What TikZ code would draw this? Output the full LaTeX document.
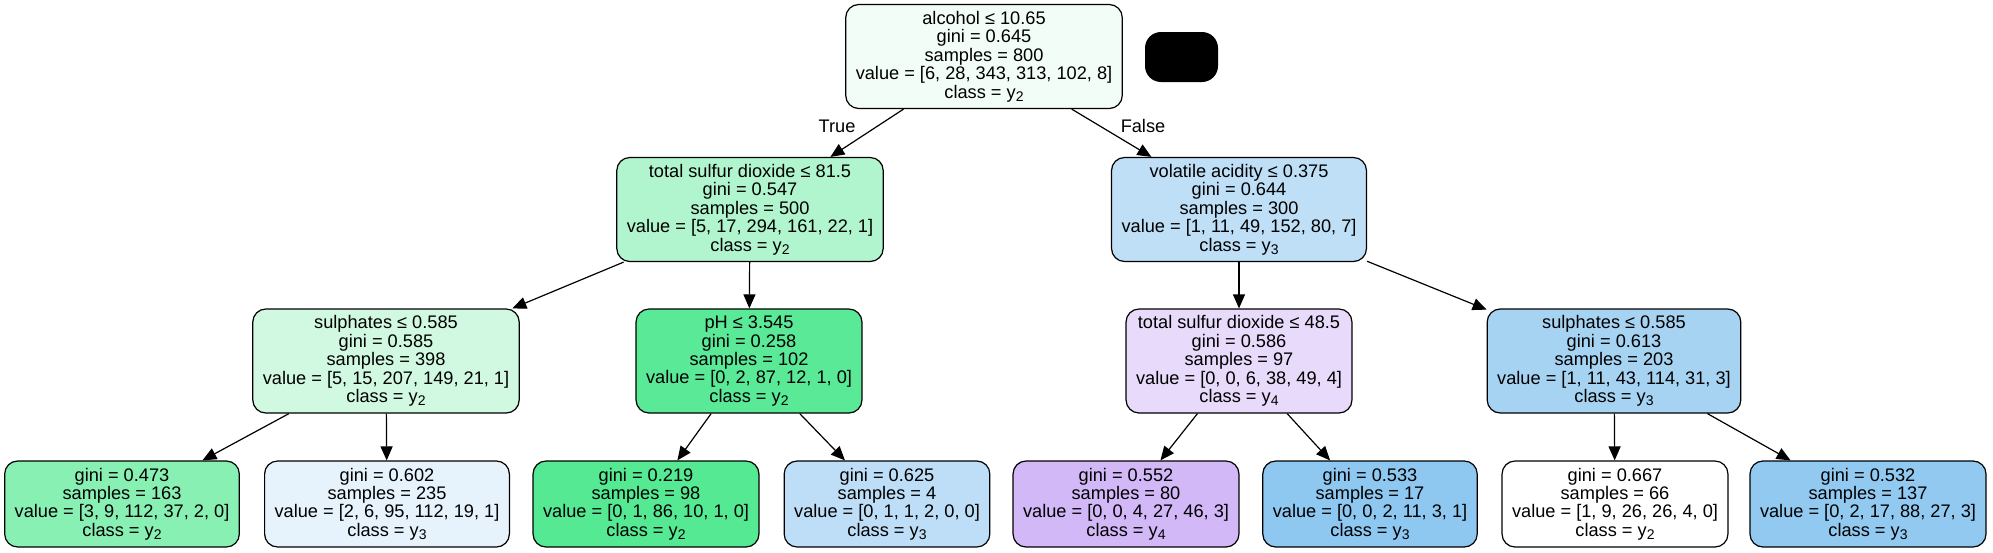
\documentclass[tikz,border=0pt]{standalone}
\usepackage{fontspec}
\setmainfont{Liberation Sans}
\usetikzlibrary{arrows.meta}
\definecolor{ytwo}{HTML}{39E581}
\definecolor{ythree}{HTML}{399DE5}
\definecolor{yfour}{HTML}{8139E5}
\newcommand{\ysub}[1]{y\raisebox{-0.35ex}{\fontsize{7}{7}\selectfont #1}}

\begin{document}
\begin{tikzpicture}[x=0.5pt,y=-0.5pt]
			\tikzset{split/.style = {shape=rectangle,draw,rounded corners=6.5pt,
					line width=0.6pt,align=center,inner xsep=5pt,inner ysep=0pt,
					minimum height=52pt,font=\fontsize{9.1}{9.2}\selectfont}}
			\tikzset{leaf/.style = {split,minimum height=43pt}}
			\tikzset{branch/.style = {-{Triangle[length=7pt,width=6pt]}, line width=0.6pt}}
			\tikzset{blob/.style = {shape=rectangle,fill=black,rounded corners=8pt,
					minimum width=36.5pt,minimum height=25pt,inner sep=0pt}}
			\useasboundingbox (0,0) rectangle (1993,552);
			
			% splits
			\node[split, fill=ytwo!6.2] (a) at (984,56.5) {alcohol ≤ 10.65\\gini = 0.645\\samples = 800\\value = [6, 28, 343, 313, 102, 8]\\class = \ysub{2}};
			\node[blob] (z) at (1181.5,57) {};
			\node[split, fill=ytwo!39.2] (b) at (750,209.5) {total sulfur dioxide ≤ 81.5\\gini = 0.547\\samples = 500\\value = [5, 17, 294, 161, 22, 1]\\class = \ysub{2}};
			\node[split, fill=ythree!32.7] (c) at (1239,209.5) {volatile acidity ≤ 0.375\\gini = 0.644\\samples = 300\\value = [1, 11, 49, 152, 80, 7]\\class = \ysub{3}};
			\node[split, fill=ytwo!23.3] (d) at (386,361) {sulphates ≤ 0.585\\gini = 0.585\\samples = 398\\value = [5, 15, 207, 149, 21, 1]\\class = \ysub{2}};
			\node[split, fill=ytwo!83.3] (e) at (749,361) {pH ≤ 3.545\\gini = 0.258\\samples = 102\\value = [0, 2, 87, 12, 1, 0]\\class = \ysub{2}};
			\node[split, fill=yfour!18.6] (f) at (1239,361) {total sulfur dioxide ≤ 48.5\\gini = 0.586\\samples = 97\\value = [0, 0, 6, 38, 49, 4]\\class = \ysub{4}};
			\node[split, fill=ythree!44.4] (g) at (1614,361) {sulphates ≤ 0.585\\gini = 0.613\\samples = 203\\value = [1, 11, 43, 114, 31, 3]\\class = \ysub{3}};
			
			% leaves
			\node[leaf, fill=ytwo!59.5] (h) at (122,504) {gini = 0.473\\samples = 163\\value = [3, 9, 112, 37, 2, 0]\\class = \ysub{2}};
			\node[leaf, fill=ythree!12.1] (i) at (387,504) {gini = 0.602\\samples = 235\\value = [2, 6, 95, 112, 19, 1]\\class = \ysub{3}};
			\node[leaf, fill=ytwo!86.4] (j) at (646,504) {gini = 0.219\\samples = 98\\value = [0, 1, 86, 10, 1, 0]\\class = \ysub{2}};
			\node[leaf, fill=ythree!33.3] (k) at (887,504) {gini = 0.625\\samples = 4\\value = [0, 1, 1, 2, 0, 0]\\class = \ysub{3}};
			\node[leaf, fill=yfour!35.8] (l) at (1126,504) {gini = 0.552\\samples = 80\\value = [0, 0, 4, 27, 46, 3]\\class = \ysub{4}};
			\node[leaf, fill=ythree!57.1] (m) at (1370,504) {gini = 0.533\\samples = 17\\value = [0, 0, 2, 11, 3, 1]\\class = \ysub{3}};
			\node[leaf, fill=white] (n) at (1615,504) {gini = 0.667\\samples = 66\\value = [1, 9, 26, 26, 4, 0]\\class = \ysub{2}};
			\node[leaf, fill=ythree!55.5] (o) at (1868,504) {gini = 0.532\\samples = 137\\value = [0, 2, 17, 88, 27, 3]\\class = \ysub{3}};
			
			%edges
			\draw[branch] (a) to (b);
			\draw[branch] (a) to (c);
			\draw[branch] (b) to (d);
			\draw[branch] (b) to (e);
			\draw[branch] (c) to (f);
			\draw[branch] (c) to (g);
			\draw[branch] (d) to (h);
			\draw[branch] (d) to (i);
			\draw[branch] (e) to (j);
			\draw[branch] (e) to (k);
			\draw[branch] (f) to (l);
			\draw[branch] (f) to (m);
			\draw[branch] (g) to (n);
			\draw[branch] (g) to (o);
			\node[font=\fontsize{9.1}{9.2}\selectfont] (t) at (837,126) {True};
			\node[font=\fontsize{9.1}{9.2}\selectfont] (u) at (1143,126) {False};
			
\end{tikzpicture}
\end{document}
